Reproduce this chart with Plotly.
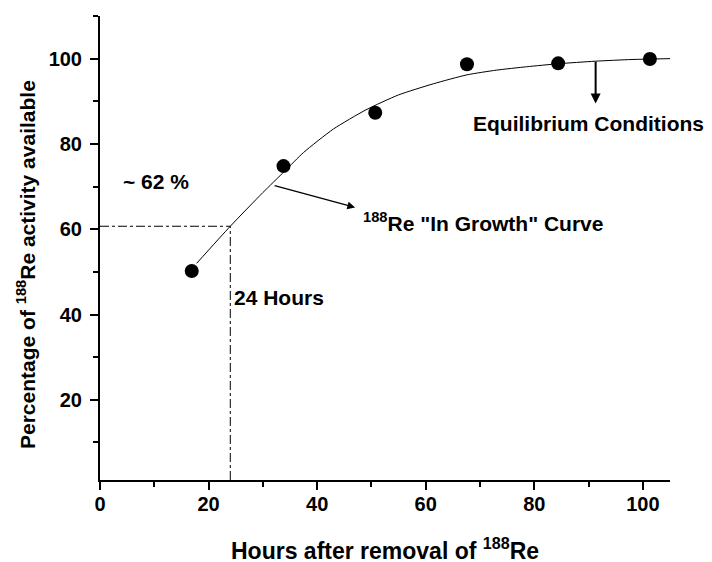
import plotly.graph_objects as go

# Measured data points
hours = [16.9, 33.8, 50.7, 67.6, 84.4, 101.3]
activity = [50.2, 74.8, 87.3, 98.7, 98.9, 99.9]

# In-growth curve
curve_x = [17.8, 24, 30, 34, 37.5, 43, 49, 55, 61.4, 67.6, 73, 78.6, 84.4, 91.2, 98, 105]
curve_y = [52, 60.7, 68.6, 73.6, 78, 83.5, 88, 91.5, 94.1, 96.2, 97.3, 98.1, 98.8, 99.4, 99.8, 100]

# Reference (24 h, ~61 %) guide
guide_x = 24
guide_y = 60.7

x_ticks = [0, 20, 40, 60, 80, 100]
y_ticks = [20, 40, 60, 80, 100]

FONT = "Liberation Sans, Arial, Helvetica, sans-serif"

fig = go.Figure()

fig.add_trace(go.Scatter(x=curve_x, y=curve_y, mode="lines",
                         line=dict(color="black", width=1, shape="spline", smoothing=0.6),
                         hoverinfo="skip", showlegend=False))
fig.add_trace(go.Scatter(x=[0, guide_x], y=[guide_y, guide_y], mode="lines",
                         line=dict(color="black", width=1, dash="dashdot"),
                         showlegend=False))
fig.add_trace(go.Scatter(x=[guide_x, guide_x], y=[1.2, guide_y], mode="lines",
                         line=dict(color="black", width=1, dash="dashdot"),
                         showlegend=False))
fig.add_trace(go.Scatter(x=hours, y=activity, mode="markers",
                         marker=dict(color="black", size=14),
                         showlegend=False))

tfont = dict(family=FONT, size=21, color="black", weight="bold")

fig.add_annotation(x=3.8, y=71.1, text="~ 62 %", showarrow=False,
                   xanchor="left", yanchor="middle", font=tfont)
fig.add_annotation(x=24.4, y=43.9, text="24 Hours", showarrow=False,
                   xanchor="left", yanchor="middle", font=tfont)
fig.add_annotation(x=68.3, y=84.9, text="Equilibrium Conditions", showarrow=False,
                   xanchor="left", yanchor="middle", font=tfont)
fig.add_annotation(x=48.0, y=61.6, text="<sup>188</sup>Re \"In Growth\" Curve", showarrow=False,
                   xanchor="left", yanchor="middle", font=tfont)

# arrows
fig.add_annotation(x=47.0, y=65.1, ax=31.9, ay=70.3, xref="x", yref="y", axref="x", ayref="y",
                   text="", showarrow=True, arrowhead=2, arrowsize=1.2, arrowwidth=1.3,
                   arrowcolor="black")
fig.add_annotation(x=91.3, y=89.5, ax=91.3, ay=99.6, xref="x", yref="y", axref="x", ayref="y",
                   text="", showarrow=True, arrowhead=2, arrowsize=1.0, arrowwidth=2,
                   arrowcolor="black")

# axis titles
fig.add_annotation(x=0.5, y=0, xref="paper", yref="paper", xanchor="center", yanchor="middle",
                   yshift=-69, showarrow=False,
                   text="Hours after removal of <sup>188</sup>Re",
                   font=dict(family=FONT, size=23, color="black", weight="bold"))
fig.add_annotation(x=0, y=0.5, xref="paper", yref="paper", xanchor="center", yanchor="middle",
                   xshift=-74, yshift=-17, textangle=-90, showarrow=False,
                   text="Percentage of <sup>188</sup>Re activity available",
                   font=dict(family=FONT, size=21, color="black", weight="bold"))

axis_common = dict(showline=True, linecolor="black", linewidth=2, showgrid=False,
                   zeroline=False, ticks="outside", ticklen=8, tickwidth=2,
                   tickcolor="black", mirror=False, automargin=False,
                   tickfont=dict(family=FONT, size=20, color="black", weight="bold"))

fig.update_xaxes(range=[0, 105], tickvals=x_ticks, **axis_common, ticklabelstandoff=-3,
                 minor=dict(ticks="outside", ticklen=5, tickwidth=2, tickcolor="black", dtick=10, tick0=0))
fig.update_yaxes(range=[1.2, 110], tickvals=y_ticks, **axis_common, ticklabelstandoff=4,
                 minor=dict(ticks="outside", ticklen=5, tickwidth=2, tickcolor="black", dtick=10, tick0=0))

# page body has an 8px margin: plot area placed to match the reference in the window
fig.update_layout(width=704, height=554, plot_bgcolor="white", paper_bgcolor="white",
                  margin=dict(l=92, r=42, t=8, b=82), showlegend=False)

fig.write_html("out.html")
